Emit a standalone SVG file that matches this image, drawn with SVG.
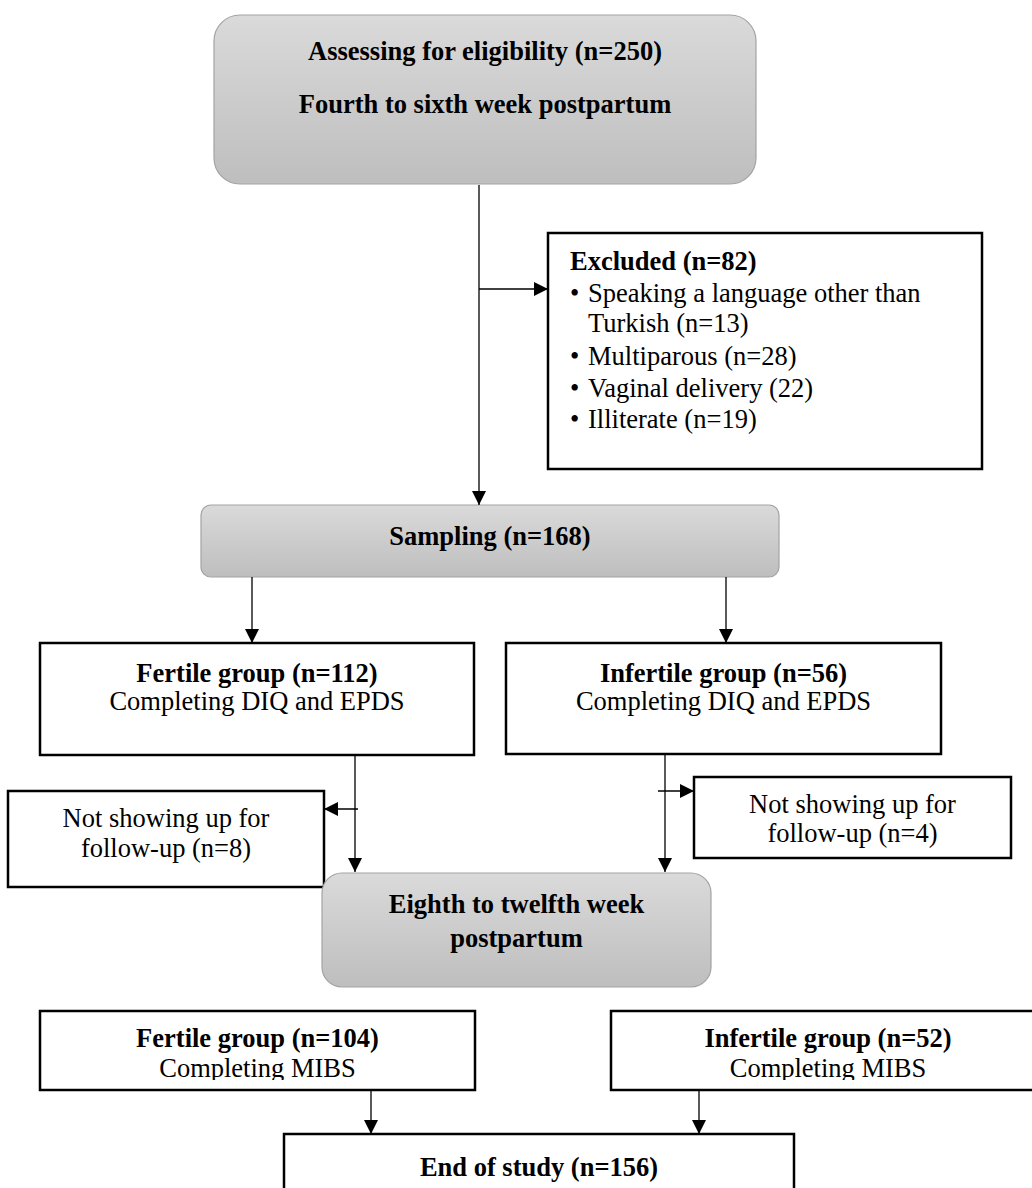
<svg xmlns="http://www.w3.org/2000/svg" width="1032" height="1188" viewBox="0 0 1032 1188">
<defs>
<linearGradient id="g" x1="0" y1="0" x2="0" y2="1">
<stop offset="0" stop-color="#dadada"/>
<stop offset="1" stop-color="#bebebe"/>
</linearGradient>
<marker id="ah" markerUnits="userSpaceOnUse" markerWidth="14" markerHeight="14" refX="14" refY="7" orient="auto">
<path d="M0,0 L14,7 L0,14 z" fill="#000"/>
</marker>
<clipPath id="c1"><rect x="0" y="1000" width="1032" height="80"/></clipPath>
</defs>
<style>
text{font-family:"Liberation Serif","Times New Roman",serif;font-size:26.5px;fill:#000}
.b{font-weight:bold}
.m{text-anchor:middle}
.gray{fill:url(#g);stroke:#a3a3a3;stroke-width:1.2}
.box{fill:#fff;stroke:#000;stroke-width:2.5}
.con line{stroke:#000;stroke-width:1.3;marker-end:url(#ah)}
</style>
<rect width="1032" height="1188" fill="#fff"/>
<g id="assess">
<rect class="gray" x="214" y="15" width="542" height="169" rx="26"/>
<text class="b m" x="485" y="60">Assessing for eligibility (n=250)</text>
<text class="b m" x="485" y="113">Fourth to sixth week postpartum</text>
</g>
<g id="excluded">
<rect class="box" x="548" y="233" width="434" height="236"/>
<text class="b" x="570" y="270">Excluded (n=82)</text>
<text x="570" y="302">•</text><text x="588" y="302">Speaking a language other than</text>
<text x="588" y="332">Turkish (n=13)</text>
<text x="570" y="365">•</text><text x="588" y="365">Multiparous (n=28)</text>
<text x="570" y="397">•</text><text x="588" y="397">Vaginal delivery (22)</text>
<text x="570" y="428">•</text><text x="588" y="428">Illiterate (n=19)</text>
</g>
<g id="sampling">
<rect class="gray" x="201" y="505" width="578" height="72" rx="10"/>
<text class="b m" x="490" y="545">Sampling (n=168)</text>
</g>
<g id="fertile1">
<rect class="box" x="40" y="643" width="434" height="112"/>
<text class="b m" x="257" y="682">Fertile group (n=112)</text>
<text class="m" x="257" y="710">Completing DIQ and EPDS</text>
</g>
<g id="infertile1">
<rect class="box" x="506" y="643" width="435" height="111"/>
<text class="b m" x="723.5" y="682">Infertile group (n=56)</text>
<text class="m" x="723.5" y="710">Completing DIQ and EPDS</text>
</g>
<g id="lost1">
<rect class="box" x="8" y="791" width="316" height="96"/>
<text class="m" x="166" y="827">Not showing up for</text>
<text class="m" x="166" y="857">follow-up (n=8)</text>
</g>
<g id="lost2">
<rect class="box" x="694" y="777" width="317" height="81"/>
<text class="m" x="852.5" y="813">Not showing up for</text>
<text class="m" x="852.5" y="842">follow-up (n=4)</text>
</g>
<g id="eighth">
<rect class="gray" x="322" y="873" width="389" height="114" rx="20"/>
<text class="b m" x="516.5" y="913">Eighth to twelfth week</text>
<text class="b m" x="516.5" y="947">postpartum</text>
</g>
<g id="fertile2">
<rect class="box" x="40" y="1011" width="435" height="79"/>
<text class="b m" x="257.5" y="1047">Fertile group (n=104)</text>
<text class="m" x="257.5" y="1077" clip-path="url(#c1)">Completing MIBS</text>
</g>
<g id="infertile2">
<rect class="box" x="611" y="1011" width="440" height="79"/>
<text class="b m" x="828" y="1047">Infertile group (n=52)</text>
<text class="m" x="828" y="1077" clip-path="url(#c1)">Completing MIBS</text>
</g>
<g id="end">
<rect class="box" x="284" y="1134" width="510" height="80"/>
<text class="b m" x="539" y="1176">End of study (n=156)</text>
</g>
<g id="connectors" class="con">
<line x1="479" y1="185" x2="479" y2="505"/>
<line x1="479" y1="289" x2="548" y2="289"/>
<line x1="252" y1="577" x2="252" y2="643"/>
<line x1="726" y1="577" x2="726" y2="643"/>
<line x1="355" y1="756" x2="355" y2="872"/>
<line x1="358" y1="809" x2="324" y2="809"/>
<line x1="665" y1="755" x2="665" y2="872"/>
<line x1="658" y1="791" x2="694" y2="791"/>
<line x1="371" y1="1091" x2="371" y2="1134"/>
<line x1="699" y1="1091" x2="699" y2="1134"/>
</g>
</svg>
